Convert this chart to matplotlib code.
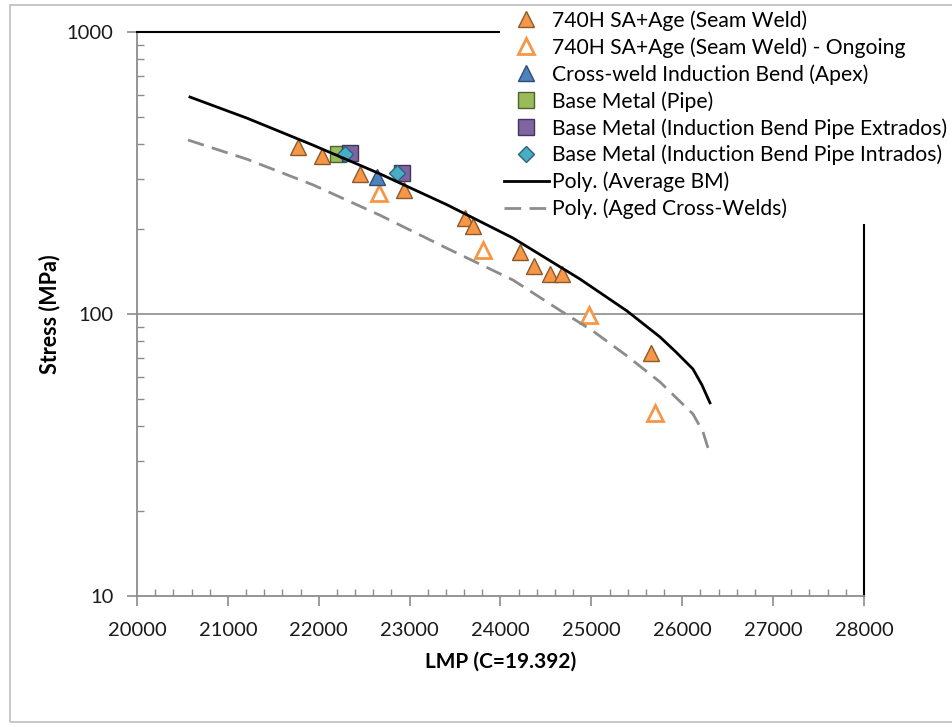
import matplotlib
matplotlib.use("Agg")
import matplotlib.pyplot as plt
from matplotlib.patches import Rectangle
from matplotlib.ticker import FixedLocator, LogLocator, NullFormatter

plt.rcParams["font.family"] = ["Lato", "DejaVu Sans"]

# creep data: Larson-Miller parameter vs stress
seam_lmp = [21772, 22036, 22454, 22938, 23609, 23697, 24215, 24369, 24545, 24677, 25656]
seam_stress = [391, 363, 313, 275, 219, 205, 166, 148, 139, 139, 73]

ongoing_lmp = [22660, 23808, 24974, 25700]
ongoing_stress = [269, 169, 99, 44.6]

apex_lmp = [22640]
apex_stress = [305]

pipe_lmp = [22210]
pipe_stress = [370]

extrados_lmp = [22344, 22920]
extrados_stress = [372, 316]

intrados_lmp = [22290, 22865]
intrados_stress = [370, 316]

# trendlines
bm_lmp = [20583, 21210, 21937, 22674, 23411, 24137, 24875, 25392, 25755, 25931, 26118, 26217, 26305]
bm_stress = [588, 495, 397, 314, 244, 186, 133, 102.5, 82.9, 73.3, 63.8, 56.0, 48.4]

cw_lmp = [20561, 21210, 21937, 22674, 23411, 24137, 24655, 25018, 25392, 25755, 26118, 26228, 26283]
cw_stress = [414, 354, 287, 224, 171, 132, 103, 87.0, 71.0, 57.4, 44.2, 38.2, 33.5]

ORANGE = "#F79646"

fig = plt.figure(figsize=(9.53, 7.27), dpi=100)
ax = fig.add_axes([137 / 953, 1 - 596 / 727, (864 - 137) / 953, (596 - 32) / 727])

# outer grey frame
fig.patches.append(Rectangle((10 / 953, 1 - 722 / 727), 1.2, 717 / 727,
                             transform=fig.transFigure, fill=False,
                             edgecolor="#bdbdbd", lw=1.2, zorder=20))

ax.set_yscale("log")
ax.set_xlim(20000, 28000)
ax.set_ylim(10, 1000)

ax.axhline(100, color="#8c8c8c", lw=1.2, zorder=1)

mk = dict(linestyle="none", markeredgewidth=1.0, zorder=3)
ax.plot(seam_lmp, seam_stress, marker="^", ms=12, color=ORANGE, mec="#8a5a2b",
        label="740H SA+Age (Seam Weld)", **mk)
ax.plot(ongoing_lmp, ongoing_stress, marker="^", ms=12, color="white", mec=ORANGE,
        linestyle="none", markeredgewidth=2.0, zorder=3,
        label="740H SA+Age (Seam Weld) - Ongoing")
ax.plot(apex_lmp, apex_stress, marker="^", ms=12, color="#4F81BD", mec="#2c4d75",
        label="Cross-weld Induction Bend (Apex)", **mk)
ax.plot(pipe_lmp, pipe_stress, marker="s", ms=12, color="#9BBB59", mec="#4f6130",
        label="Base Metal (Pipe)", **mk)
ax.plot(extrados_lmp, extrados_stress, marker="s", ms=12, color="#8064A2", mec="#43345a",
        label="Base Metal (Induction Bend Pipe Extrados)", **mk)
ax.plot(intrados_lmp, intrados_stress, marker="D", ms=8, color="#4BACC6", mec="#24677a",
        label="Base Metal (Induction Bend Pipe Intrados)", **mk)

ax.plot(bm_lmp, bm_stress, color="black", lw=2.0, zorder=4, label="Poly. (Average BM)")
ax.plot(cw_lmp, cw_stress, color="#8c8c8c", lw=2.0, dashes=(6, 3), zorder=4,
        label="Poly. (Aged Cross-Welds)")

# spines: grey axes, black plot-area border
for s in ("left", "bottom"):
    ax.spines[s].set_color("#8c8c8c")
    ax.spines[s].set_linewidth(1.3)
for s in ("top", "right"):
    ax.spines[s].set_color("black")
    ax.spines[s].set_linewidth(1.5)

ax.set_xticks(range(20000, 28001, 1000))
ax.xaxis.set_minor_locator(FixedLocator([x for x in range(20000, 28001, 200) if x % 1000]))
ax.yaxis.set_major_locator(FixedLocator([10, 100, 1000]))
ax.yaxis.set_minor_locator(LogLocator(base=10, subs=range(2, 10)))
ax.yaxis.set_minor_formatter(NullFormatter())
ax.set_yticklabels(["10", "100", "1000"])

ax.tick_params(axis="both", which="major", direction="out", length=7, width=1.2,
               color="#8c8c8c", labelsize=14.5, labelcolor="#1a1a1a")
ax.tick_params(axis="x", which="major", pad=12)
ax.tick_params(axis="y", which="major", pad=10)
ax.tick_params(axis="both", which="minor", direction="in", length=5, width=1.0,
               color="#8c8c8c")

ax.set_xlabel("LMP (C=19.392)", fontsize=15, fontweight="bold", va="center")
ax.set_ylabel("Stress (MPa)", fontsize=15.5, fontweight="bold", va="center")
ax.xaxis.set_label_coords(0.5, (596 - 662) / 564)
ax.yaxis.set_label_coords((50 - 137) / 727, 0.5)

leg = fig.legend(loc="upper left", bbox_to_anchor=(500 / 953, 1 - 6 / 727),
                 fontsize=15.2, frameon=True, facecolor="white", edgecolor="none",
                 framealpha=1, handlelength=2.1, handletextpad=0.14,
                 labelspacing=0.3, borderpad=0.2, borderaxespad=0)
leg.set_zorder(10)

fig.savefig("out.png", dpi=100)
